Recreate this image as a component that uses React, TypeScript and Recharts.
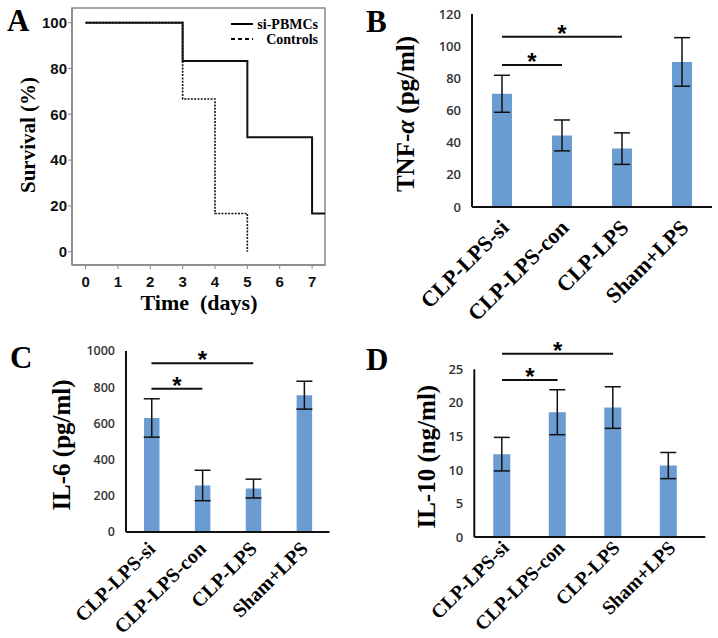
import React from 'react';
import { LineChart, Line, XAxis, YAxis, BarChart, Bar, ErrorBar, ReferenceLine, ReferenceArea, Legend } from 'recharts';

// ---- Panel A: survival ----
const dayTicks = [0, 1, 2, 3, 4, 5, 6, 7];
const dayDomain = [-0.42, 7.4];
const survivalTicks = [0, 20, 40, 60, 80, 100];
const survivalDomain = [-5.8, 106.4];
const seriesNames = ['si-PBMCs', 'Controls'];
const siPBMCs = [
  { t: 0, s: 100 },
  { t: 3, s: 83.3 },
  { t: 5, s: 50 },
  { t: 7, s: 16.7 },
  { t: 7.4, s: 16.7 },
];
const controls = [
  { t: 0, s: 100 },
  { t: 3, s: 66.7 },
  { t: 4, s: 16.7 },
  { t: 5, s: 0 },
];

// ---- Panels B-D: cytokines ----
const groups = ['CLP-LPS-si', 'CLP-LPS-con', 'CLP-LPS', 'Sham+LPS'];
const tnfMean = [70.4, 44.5, 36.3, 90.2];
const tnfErr = [11.5, 9.6, 9.8, 15.1];
const il6Mean = [630, 257, 240, 756];
const il6Err = [106, 84, 52, 77];
const il10Mean = [12.35, 18.6, 19.3, 10.65];
const il10Err = [2.5, 3.35, 3.1, 1.95];
const tnfTicks = [0, 20, 40, 60, 80, 100, 120];
const il6Ticks = [0, 200, 400, 600, 800, 1000];
const il10Ticks = [0, 5, 10, 15, 20, 25];
const sigPairs = [
  ['CLP-LPS-si', 'CLP-LPS'],
  ['CLP-LPS-si', 'CLP-LPS-con'],
];
const tnfSigY = [105.8, 88.3];
const il6SigY = [933, 791];
const il10SigY = [27.3, 23.4];

const build = (mean: number[], err: number[]) => groups.map((g, i) => ({ g, v: mean[i], e: err[i] }));
const tnfData = build(tnfMean, tnfErr);
const il6Data = build(il6Mean, il6Err);
const il10Data = build(il10Mean, il10Err);

const SERIF = '"Liberation Serif", "Times New Roman", serif';
const SANS = '"Liberation Sans", Arial, sans-serif';
const BAR = '#6a9bd1';

const makeRotTick = (dx: number, dy: number, size: number) => (props: any) => {
  const { x, y, payload } = props;
  const ax = x + dx;
  const ay = y + dy;
  return (
    <text x={ax} y={ay} transform={`rotate(-45 ${ax} ${ay})`} textAnchor="end" fontFamily={SERIF} fontWeight="bold" fontSize={size} fill="#000">
      {payload.value}
    </text>
  );
};

const Star = (props: any) => {
  const vb = props.viewBox || { x: 0, y: 0, width: 0 };
  return (
    <text x={vb.x + vb.width / 2} y={vb.y + 5} textAnchor="middle" fontFamily={SANS} fontWeight="bold" fontSize={24} fill="#000">
      *
    </text>
  );
};

const yTitle = (content: React.ReactNode, cx: number, cy: number, size: number) => () => (
  <text x={cx} y={cy} transform={`rotate(-90 ${cx} ${cy})`} textAnchor="middle" dominantBaseline="central" fontFamily={SERIF} fontWeight="bold" fontSize={size} fill="#000">
    {content}
  </text>
);

const LegendA = (props: any) => {
  const payload = [...(props.payload || [])].sort(
    (a: any, b: any) => seriesNames.indexOf(a.value) - seriesNames.indexOf(b.value)
  );
  return (
    <svg width={95} height={34}>
      {payload.map((p: any, i: number) => {
        const dash = p.payload && p.payload.strokeDasharray ? '4 3' : undefined;
        return (
          <g key={i}>
            <line x1={0} x2={22} y1={8 + i * 15} y2={8 + i * 15} stroke="#000" strokeWidth={2} strokeDasharray={dash} />
            <text x={87} y={12.5 + i * 15} textAnchor="end" fontFamily={SERIF} fontWeight="bold" fontSize={14} fill="#000">
              {p.value}
            </text>
          </g>
        );
      })}
    </svg>
  );
};

const valueTick = (size: number) => ({ fontFamily: '"Open Sans", sans-serif', fontWeight: 600, fontSize: size, fill: '#333' });

const CytoChart = (p: {
  data: any[];
  width: number;
  height: number;
  margin: any;
  yWidth: number;
  xHeight: number;
  domain: number[];
  ticks: number[];
  barSize: number;
  sigY: number[];
  title: any;
  tickSize: number;
  padRight?: number;
  xTick: any;
}) => (
  <BarChart width={p.width} height={p.height} data={p.data} margin={p.margin}>
    <XAxis
      dataKey="g"
      height={p.xHeight}
      interval={0}
      tickLine={false}
      tickSize={0}
      tickMargin={0}
      axisLine={{ stroke: '#111', strokeWidth: 2 }}
      tick={p.xTick}
      padding={{ left: 0, right: p.padRight || 0 }}
    />
    <YAxis
      width={p.yWidth}
      domain={p.domain}
      ticks={p.ticks}
      interval={0}
      tickLine={false}
      tickSize={0}
      tickMargin={11}
      axisLine={{ stroke: '#111', strokeWidth: 2 }}
      tick={valueTick(p.tickSize)}
      label={p.title}
      allowDataOverflow
    />
    <Bar dataKey="v" fill={BAR} barSize={p.barSize} isAnimationActive={false}>
      <ErrorBar dataKey="e" width={8} stroke="#111" strokeWidth={1.5} direction="y" />
    </Bar>
    {sigPairs.map((pair, i) => (
      <ReferenceLine
        key={i}
        segment={[
          { x: pair[0], y: p.sigY[i] },
          { x: pair[1], y: p.sigY[i] },
        ]}
        stroke="#111"
        strokeWidth={2}
        ifOverflow="visible"
        label={Star}
      />
    ))}
  </BarChart>
);

export default function App() {
  return (
    <div style={{ position: 'absolute', left: 0, top: 0, width: 718, height: 638, background: '#fff', overflow: 'hidden' }}>
      {/* Panel A */}
      <div style={{ position: 'absolute', left: 0, top: 0 }}>
        <LineChart width={340} height={320} margin={{ top: 8, right: 15, bottom: 10, left: 0 }}>
          <XAxis
            dataKey="t"
            type="number"
            domain={dayDomain}
            ticks={dayTicks}
            allowDataOverflow
            height={45}
            tickSize={4}
            tickMargin={7}
            axisLine={{ stroke: '#888', strokeWidth: 1.5 }}
            tickLine={{ stroke: '#888' }}
            tick={{ fontFamily: SANS, fontWeight: 'bold', fontSize: 15, fill: '#111' }}
            label={() => (
              <text x={199} y={310} textAnchor="middle" fontFamily={SERIF} fontWeight="bold" fontSize={22} fill="#000" style={{ whiteSpace: 'pre' }}>
                {'Time  (days)'}
              </text>
            )}
          />
          <YAxis
            type="number"
            domain={survivalDomain}
            ticks={survivalTicks}
            allowDataOverflow
            width={72}
            tickSize={4}
            tickMargin={1}
            axisLine={{ stroke: '#888', strokeWidth: 1.5 }}
            tickLine={{ stroke: '#888' }}
            tick={{ fontFamily: SANS, fontWeight: 'bold', fontSize: 15, fill: '#111' }}
            label={yTitle('Survival (%)', 28, 135, 21)}
          />
          <ReferenceArea
            x1={dayDomain[0]}
            x2={dayDomain[1]}
            y1={survivalDomain[0]}
            y2={survivalDomain[1]}
            fill="none"
            fillOpacity={0}
            stroke="#888"
            strokeWidth={1.5}
            ifOverflow="visible"
          />
          <Legend
            layout="vertical"
            align="center"
            verticalAlign="middle"
            content={<LegendA />}
            wrapperStyle={{ position: 'absolute', top: 16, left: 231, width: 95 }}
          />
          <Line data={siPBMCs} dataKey="s" name={seriesNames[0]} type="stepAfter" stroke="#111" strokeWidth={2} dot={false} isAnimationActive={false} />
          <Line data={controls} dataKey="s" name={seriesNames[1]} type="stepAfter" stroke="#111" strokeWidth={1.6} strokeDasharray="2 1.3" dot={false} isAnimationActive={false} />
        </LineChart>
      </div>

      {/* Panel B */}
      <div style={{ position: 'absolute', left: 340, top: 0 }}>
        <CytoChart
          data={tnfData}
          width={378}
          height={330}
          margin={{ top: 14, right: 6, bottom: 0, left: 0 }}
          yWidth={132}
          xHeight={123}
          domain={[0, 120]}
          ticks={tnfTicks}
          barSize={20}
          sigY={tnfSigY}
          tickSize={13}
          xTick={makeRotTick(8, 22, 22)}
          title={yTitle(
            <>
              {'TNF-'}
              <tspan fontStyle="italic">α</tspan>
              {' (pg/ml)'}
            </>,
            65,
            114,
            25
          )}
        />
      </div>

      {/* Panel C */}
      <div style={{ position: 'absolute', left: 0, top: 320 }}>
        <CytoChart
          data={il6Data}
          width={345}
          height={318}
          margin={{ top: 31, right: 15.5, bottom: 0, left: 0 }}
          yWidth={126}
          xHeight={106}
          domain={[0, 1000]}
          ticks={il6Ticks}
          barSize={15.5}
          sigY={il6SigY}
          tickSize={12.5}
          xTick={makeRotTick(5, 18, 20)}
          title={yTitle('IL-6 (pg/ml)', 61.7, 125, 25)}
        />
      </div>

      {/* Panel D */}
      <div style={{ position: 'absolute', left: 340, top: 320 }}>
        <CytoChart
          data={il10Data}
          width={378}
          height={318}
          margin={{ top: 49.3, right: 12.7, bottom: 0, left: 0 }}
          yWidth={134.3}
          xHeight={101}
          domain={[0, 25]}
          ticks={il10Ticks}
          barSize={17}
          sigY={il10SigY}
          tickSize={13}
          padRight={9}
          xTick={makeRotTick(8, 12, 19.5)}
          title={yTitle('IL-10 (ng/ml)', 86.7, 136.7, 25)}
        />
      </div>

      {/* Panel letters */}
      <svg width={718} height={638} style={{ position: 'absolute', left: 0, top: 0, pointerEvents: 'none' }}>
        {[
          ['A', 7, 31],
          ['B', 366, 32],
          ['C', 10, 368],
          ['D', 366, 370],
        ].map(([t, x, y]) => (
          <text key={t as string} x={x as number} y={y as number} fontFamily={SERIF} fontWeight="bold" fontSize={31} fill="#000">
            {t}
          </text>
        ))}
      </svg>
    </div>
  );
}
